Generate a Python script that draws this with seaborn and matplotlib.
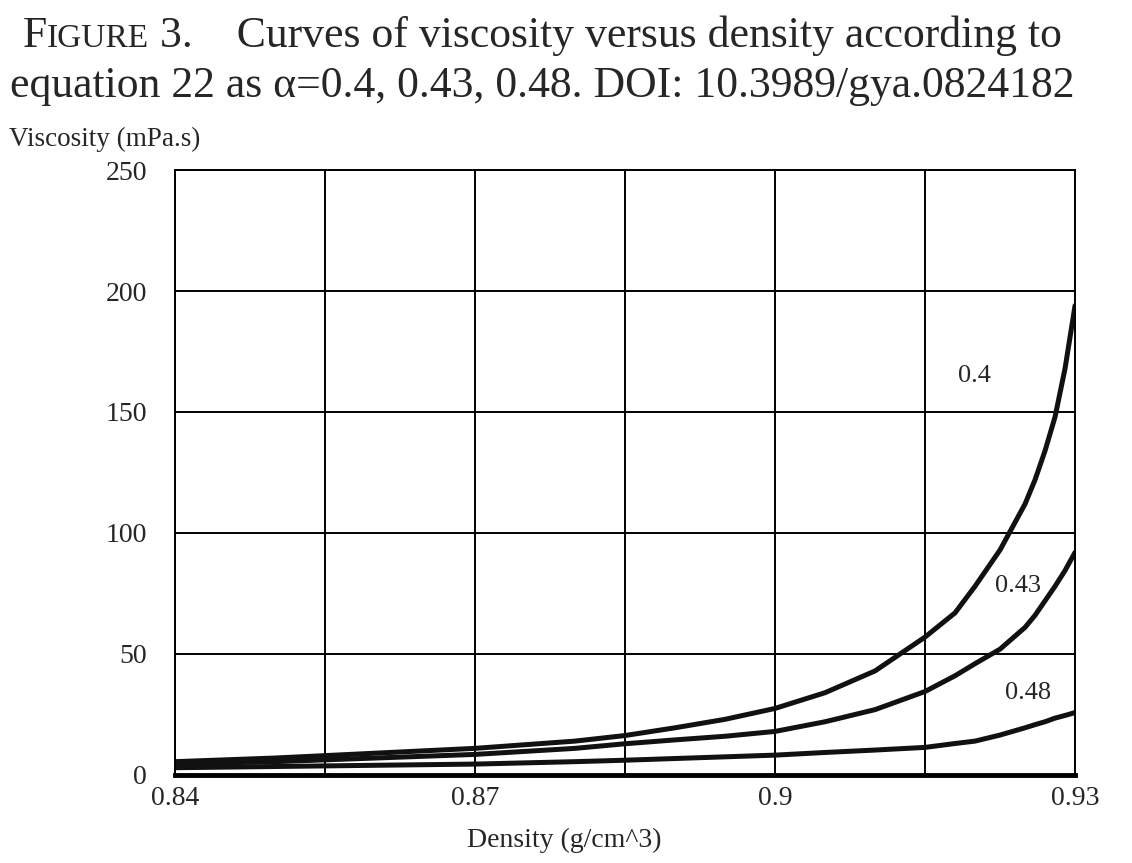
import numpy as np
import pandas as pd
import matplotlib
matplotlib.use("Agg")
import matplotlib.pyplot as plt
from matplotlib.offsetbox import TextArea, HPacker, AnnotationBbox
import seaborn as sns

# values
density = [0.84, 0.85, 0.86, 0.87, 0.88, 0.885, 0.89, 0.895, 0.9, 0.905,
           0.91, 0.915, 0.918, 0.92, 0.9225, 0.925, 0.926, 0.927, 0.928, 0.929, 0.93]
visc_040 = [5.5, 7, 9, 11, 14, 16.3, 19.5, 23, 27.5, 34,
            43, 57, 67, 78, 93, 112, 122, 134, 148, 168, 194]
visc_043 = [4.5, 5.5, 7, 8.5, 11, 12.9, 14.5, 16, 18, 22,
            27, 34.5, 41, 46, 52, 61, 66, 72, 78, 84.5, 92]
visc_048 = [3, 3.5, 4, 4.5, 5.5, 6.1, 6.8, 7.5, 8.2, 9.3,
            10.3, 11.4, 13, 14, 16.5, 19.5, 20.8, 22, 23.5, 24.6, 25.8]
alphas = ["0.4", "0.43", "0.48"]
label_x = [0.9199, 0.9243, 0.9253]
label_y = [165, 78, 34]

xticks = [0.84, 0.87, 0.9, 0.93]
xtick_labels = ["0.84", "0.87", "0.9", "0.93"]
xminor = [0.855, 0.885, 0.915]
yticks = [0, 50, 100, 150, 200, 250]

df = pd.DataFrame({
    "density": density * 3,
    "viscosity": visc_040 + visc_043 + visc_048,
    "alpha": [a for a in alphas for _ in density],
})

sns.set_style("white")
plt.rcParams["font.family"] = ["Liberation Serif", "DejaVu Serif"]

fig = plt.figure(figsize=(11.32, 8.63), dpi=100)
ax = fig.add_axes([0.1546, 0.102, 0.7951, 0.701])

sns.lineplot(data=df, x="density", y="viscosity", hue="alpha",
             palette=["#111111"] * 3, linewidth=3.6, legend=False, ax=ax)

ax.set_xlim(0.84, 0.93)
ax.set_ylim(0, 250)
ax.set_xticks(xticks)
ax.set_xticklabels(xtick_labels)
ax.set_xticks(xminor, minor=True)
ax.set_yticks(yticks)
ax.grid(True, which="both", axis="x", color="black", linewidth=1.4)
ax.grid(True, which="major", axis="y", color="black", linewidth=1.4)
ax.set_axisbelow(True)
ax.tick_params(axis="both", which="both", length=0, labelsize=20)
ax.tick_params(axis="y", pad=20)
ax.tick_params(axis="x", pad=8)
for s in ax.spines.values():
    s.set_color("black")
    s.set_linewidth(1.4)
ax.spines["bottom"].set_linewidth(3.5)

ax.set_xlabel("Density (g/cm^3)", fontsize=20)
ax.xaxis.set_label_coords(0.433, -0.088)
ax.set_ylabel("")
fig.text(0.008, 0.838, "Viscosity (mPa.s)", fontsize=19.5, ha="left", va="center")

for a, lx, ly in zip(alphas, label_x, label_y):
    ax.text(lx, ly, a, fontsize=19, ha="center", va="center")

# title, first line with small caps "Figure"
big, small = 31.5, 24
parts = [TextArea("F", textprops=dict(fontsize=big)),
         TextArea("IGURE", textprops=dict(fontsize=small)),
         TextArea(" 3.    Curves of viscosity versus density according to",
                  textprops=dict(fontsize=big))]
row = HPacker(children=parts, align="baseline", pad=0, sep=0)
ab = AnnotationBbox(row, (0.479, 0.958), xycoords="figure fraction",
                    frameon=False, box_alignment=(0.5, 0.5))
fig.add_artist(ab)
fig.text(0.479, 0.9, "equation 22 as α=0.4, 0.43, 0.48. DOI: 10.3989/gya.0824182",
         fontsize=big, ha="center", va="center")

fig.savefig("out.png", dpi=100)
